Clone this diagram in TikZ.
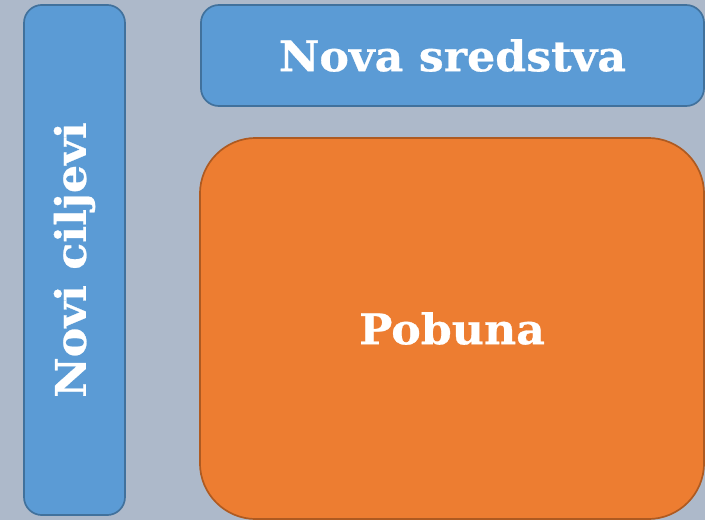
\documentclass[tikz,border=0pt]{standalone}
\usepackage{fontspec}
\setmainfont{DejaVu Serif}
\newfontfamily\slabfont[FakeStretch=1.05, FakeBold=0.6]{DejaVu Serif}
\usepackage{tikz}

\definecolor{bgslate}{HTML}{ADB9CA}
\definecolor{boxblue}{HTML}{5B9BD5}
\definecolor{edgeblue}{HTML}{41719C}
\definecolor{boxorange}{HTML}{ED7D31}
\definecolor{edgeorange}{HTML}{AE5A21}

\tikzset{
  card/.style={draw=edgeblue, fill=boxblue, line width=1.2pt,
    rounded corners=0.45cm, inner sep=0pt, outer sep=0pt,
    text=white, font=\slabfont\fontsize{30}{36}\selectfont\bfseries},
  bigcard/.style={card, draw=edgeorange, fill=boxorange,
    rounded corners=1.4cm},
}

\begin{document}
\begin{tikzpicture}[x=0.025cm, y=-0.025cm]
      \fill[bgslate] (0,0) rectangle (705,520);
      \useasboundingbox (0,0) rectangle (705,520);

      \node[card, rotate=90, minimum width=12.75cm, minimum height=2.525cm]
        (ciljevi) at (74.5,260) {Novi ciljevi};
      \node[card, minimum width=12.575cm, minimum height=2.525cm]
        (sredstva) at (452.5,55.5) {Nova sredstva};
      \node[bigcard, minimum width=12.6cm, minimum height=9.525cm]
        (pobuna) at (452,328.5) {Pobuna};
    \end{tikzpicture}
\end{document}
